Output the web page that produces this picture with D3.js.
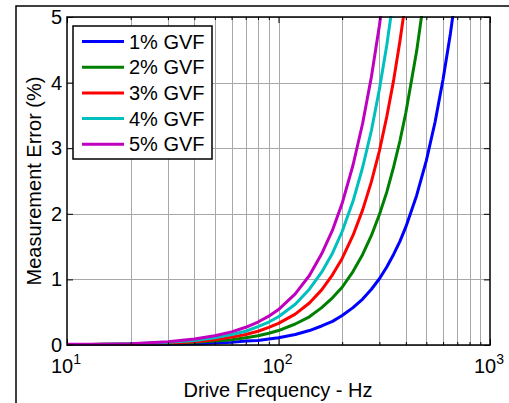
<!DOCTYPE html>
<html>
<head>
<meta charset="utf-8">
<script src="https://cdn.jsdelivr.net/npm/d3@7"></script>
<style>
  body { margin: 0; background: #fff; }
  text { font-family: "Liberation Sans", Arial, sans-serif; fill: #000; }
</style>
</head>
<body>
<svg id="svg" width="509" height="403"></svg>
<script>
// data
var freq = [10, 15, 20, 30, 40, 50, 60, 70, 80, 90, 100, 120, 140, 160, 180, 200,
            225, 250, 275, 300, 325, 350, 375, 400, 450, 500, 550, 600, 650, 700];

var gvf1 = [0.00, 0.00, 0.00, 0.01, 0.02, 0.03, 0.04, 0.06, 0.07, 0.09, 0.11, 0.16, 0.22, 0.29, 0.36, 0.45,
            0.57, 0.70, 0.85, 1.01, 1.19, 1.38, 1.58, 1.80, 2.28, 2.81, 3.40, 4.05, 4.75, 5.51];
var gvf2 = [0.00, 0.01, 0.01, 0.02, 0.04, 0.06, 0.08, 0.11, 0.14, 0.18, 0.22, 0.32, 0.43, 0.57, 0.72, 0.88,
            1.12, 1.38, 1.67, 1.99, 2.33, 2.71, 3.11, 3.54, 4.48, 5.53];
var gvf3 = [0.00, 0.01, 0.01, 0.03, 0.05, 0.08, 0.12, 0.16, 0.21, 0.27, 0.33, 0.47, 0.64, 0.84, 1.07, 1.32,
            1.67, 2.06, 2.49, 2.96, 3.48, 4.03, 4.63, 5.26];
var gvf4 = [0.00, 0.01, 0.02, 0.04, 0.07, 0.11, 0.16, 0.21, 0.28, 0.35, 0.43, 0.62, 0.85, 1.11, 1.40, 1.73,
            2.19, 2.71, 3.27, 3.90, 4.57, 5.30];
var gvf5 = [0.01, 0.01, 0.02, 0.05, 0.09, 0.14, 0.20, 0.27, 0.35, 0.44, 0.54, 0.78, 1.06, 1.39, 1.75, 2.16,
            2.74, 3.38, 4.09, 4.87, 5.71];

var seriesNames = ["1% GVF", "2% GVF", "3% GVF", "4% GVF", "5% GVF"];
var seriesColors = ["#0000ff", "#008000", "#ff0000", "#00bfbf", "#bf00bf"];
var seriesValues = [gvf1, gvf2, gvf3, gvf4, gvf5];

var yTicks = [0, 1, 2, 3, 4, 5];
var xMajor = [10, 100, 1000];
var xExp = ["1", "2", "3"];
var xMinor = [20, 30, 40, 50, 60, 70, 80, 90, 200, 300, 400, 500, 600, 700, 800, 900];

var svg = d3.select("#svg");
// plot box (note: "top" is taken by window.top, so use prefixed names)
var pLeft = 67, pRight = 490, pTop = 17, pBottom = 345;

var x = d3.scaleLog().domain([10, 1000]).range([pLeft, pRight]);
var y = d3.scaleLinear().domain([0, 5]).range([pBottom, pTop]);

// outer figure frame
svg.append("rect")
    .attr("x", 16).attr("y", 6)
    .attr("width", 600).attr("height", 500)
    .attr("fill", "none").attr("stroke", "#000").attr("stroke-width", 1.5);

// grid
var grid = svg.append("g").attr("class", "grid")
    .attr("stroke", "#a8a8a8").attr("stroke-width", 1);

grid.selectAll("line.gx")
    .data(xMinor.concat([100]))
    .enter().append("line")
      .attr("x1", function(d) { return Math.round(x(d)) + 0.5; })
      .attr("x2", function(d) { return Math.round(x(d)) + 0.5; })
      .attr("y1", pTop).attr("y2", pBottom);

grid.selectAll("line.gy")
    .data(yTicks)
    .enter().append("line")
      .attr("y1", function(d) { return Math.round(y(d)) + 0.5; })
      .attr("y2", function(d) { return Math.round(y(d)) + 0.5; })
      .attr("x1", pLeft).attr("x2", pRight);

// curves
svg.append("clipPath").attr("id", "clip")
  .append("rect")
    .attr("x", pLeft).attr("y", pTop - 1)
    .attr("width", pRight - pLeft).attr("height", pBottom - pTop + 2);

var line = d3.line()
    .x(function(d) { return x(d[0]); })
    .y(function(d) { return y(d[1]); });

svg.append("g").attr("clip-path", "url(#clip)")
  .selectAll("path")
  .data(seriesValues)
  .enter().append("path")
    .attr("fill", "none")
    .attr("stroke", function(d, i) { return seriesColors[i]; })
    .attr("stroke-width", 3)
    .attr("stroke-linejoin", "round")
    .attr("d", function(vals) {
      return line(vals.map(function(v, i) { return [freq[i], v]; }));
    });

// axes box and inward ticks
svg.append("rect")
    .attr("x", pLeft).attr("y", pTop)
    .attr("width", pRight - pLeft).attr("height", pBottom - pTop)
    .attr("fill", "none").attr("stroke", "#000").attr("stroke-width", 1.5);

function noDomain(g) { g.select(".domain").remove(); }

svg.append("g").attr("transform", "translate(0," + pBottom + ")")
   .call(d3.axisBottom(x).tickValues(xMinor).tickSize(-3).tickFormat("")).call(noDomain);
svg.append("g").attr("transform", "translate(0," + pTop + ")")
   .call(d3.axisTop(x).tickValues(xMinor).tickSize(-3).tickFormat("")).call(noDomain);
svg.append("g").attr("transform", "translate(0," + pBottom + ")")
   .call(d3.axisBottom(x).tickValues(xMajor).tickSize(-6).tickFormat("")).call(noDomain);
svg.append("g").attr("transform", "translate(0," + pTop + ")")
   .call(d3.axisTop(x).tickValues(xMajor).tickSize(-6).tickFormat("")).call(noDomain);

svg.append("g").attr("transform", "translate(" + pLeft + ",0)")
   .call(d3.axisLeft(y).tickValues(yTicks).tickSize(-6).tickPadding(5).tickFormat(d3.format("d")))
   .call(noDomain)
   .call(function(g) {
     g.selectAll("text").attr("font-size", 20).attr("font-family", null);
   });
svg.append("g").attr("transform", "translate(" + pRight + ",0)")
   .call(d3.axisRight(y).tickValues(yTicks).tickSize(-6).tickFormat(""))
   .call(noDomain);

// x tick labels with exponents
var xl = svg.append("g").selectAll("text")
    .data(xMajor)
    .enter().append("text")
      .attr("x", function(d) { return x(d) - 1; })
      .attr("y", 373)
      .attr("text-anchor", "middle")
      .attr("font-size", 20);
xl.append("tspan").text("10");
xl.append("tspan")
    .attr("font-size", 14)
    .attr("dy", -9)
    .text(function(d, i) { return xExp[i]; });

// axis titles
svg.append("text")
    .attr("x", 278).attr("y", 397)
    .attr("text-anchor", "middle")
    .attr("font-size", 20)
    .text("Drive Frequency - Hz");

svg.append("text")
    .attr("transform", "translate(41,181) rotate(-90)")
    .attr("text-anchor", "middle")
    .attr("font-size", 20)
    .text("Measurement Error (%)");

// legend
var legend = svg.append("g");
legend.append("rect")
    .attr("x", 73).attr("y", 26)
    .attr("width", 139).attr("height", 133)
    .attr("fill", "#fff").attr("stroke", "#000").attr("stroke-width", 1.5);

var entry = legend.selectAll("g.entry")
    .data(seriesNames)
    .enter().append("g")
      .attr("transform", function(d, i) { return "translate(0," + (41.5 + i * 25.7) + ")"; });

entry.append("line")
    .attr("x1", 82).attr("x2", 124)
    .attr("stroke", function(d, i) { return seriesColors[i]; })
    .attr("stroke-width", 3);

entry.append("text")
    .attr("x", 129).attr("y", 7)
    .attr("font-size", 20)
    .text(function(d) { return d; });
</script>
</body>
</html>
